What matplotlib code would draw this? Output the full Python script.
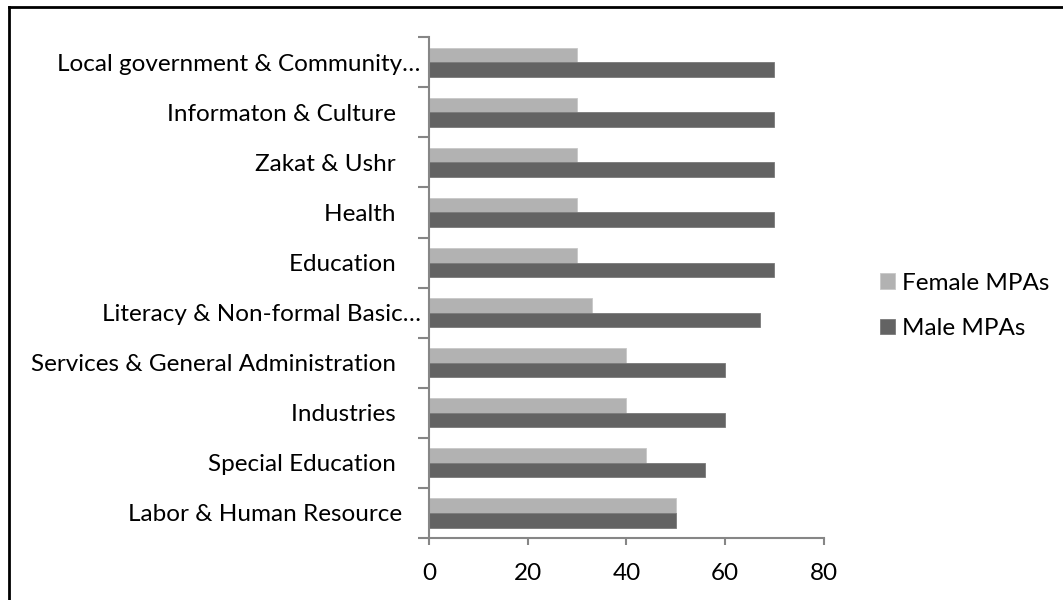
import matplotlib
matplotlib.use("Agg")
import matplotlib.pyplot as plt
from matplotlib.lines import Line2D
import numpy as np

plt.rcParams['font.family'] = ['Lato', 'DejaVu Sans']

departments = [
    "Labor & Human Resource   ",
    "Special Education    ",
    "Industries    ",
    "Services & General Administration    ",
    "Literacy & Non-formal Basic\u2026",
    "Education    ",
    "Health    ",
    "Zakat & Ushr    ",
    "Informaton & Culture    ",
    "Local government & Community\u2026",
]
female_mpas = [50, 44, 40, 40, 33, 30, 30, 30, 30, 30]
male_mpas = [50, 56, 60, 60, 67, 70, 70, 70, 70, 70]
x_ticks = [0, 20, 40, 60, 80]

female_color = "#b2b2b2"
male_color = "#636363"
axis_color = "#868686"
fs = 17.5

fig = plt.figure(figsize=(10.63, 6.0), dpi=100)
ax = fig.add_axes([0.4036, 0.1033, 0.7749 - 0.4036, 0.938 - 0.1033])

y = np.arange(len(departments))
h = 0.29
ax.barh(y + h / 2, female_mpas, height=h, color=female_color,
        edgecolor="#c8c8c8", linewidth=0.6, label="Female MPAs")
ax.barh(y - h / 2, male_mpas, height=h, color=male_color,
        edgecolor="#7a7a7a", linewidth=0.6, label="Male MPAs")

ax.set_xlim(0, 80)
ax.set_ylim(-0.5, len(departments) - 0.5)
ax.set_xticks(x_ticks)
ax.set_xticklabels([str(t) for t in x_ticks], fontsize=fs)
ax.set_yticks(y)
ax.set_yticklabels(departments, fontsize=fs)
ax.set_yticks(np.arange(-0.5, len(departments), 1.0), minor=True)
ax.tick_params(axis="y", which="major", length=0, pad=6)
ax.tick_params(axis="y", which="minor", length=8, width=1.5, color=axis_color, direction="out")
ax.tick_params(axis="x", length=5, width=1.5, color=axis_color, direction="out", pad=13)

for side in ("top", "right"):
    ax.spines[side].set_visible(False)
for side in ("left", "bottom"):
    ax.spines[side].set_color(axis_color)
    ax.spines[side].set_linewidth(1.5)

handles, labels = ax.get_legend_handles_labels()
fig.legend(handles, labels, loc="center left", bbox_to_anchor=(0.8185, 0.490),
           frameon=False, fontsize=fs, handlelength=0.62, handleheight=0.62,
           handletextpad=0.3, labelspacing=1.0, borderaxespad=0)

# frame edges of the chart area
fig.add_artist(Line2D([0.0085, 1.0], [0.988, 0.988], transform=fig.transFigure,
                      color="black", linewidth=2))
fig.add_artist(Line2D([0.0085, 0.0085], [0.0, 0.988], transform=fig.transFigure,
                      color="black", linewidth=2))

fig.savefig("out.png", dpi=100, facecolor="white")
